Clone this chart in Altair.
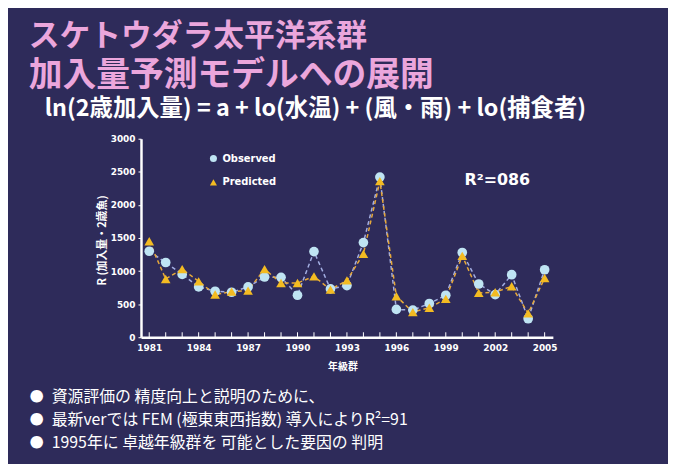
import altair as alt
import pandas as pd

# ---- data ----
years = list(range(1981, 2006))
observed = [1300, 1130, 950, 760, 695, 680, 760, 910, 905, 635, 1295, 730, 780,
            1430, 2420, 420, 410, 510, 635, 1280, 805, 645, 945, 280, 1020]
predicted = [1450, 880, 1030, 845, 645, 690, 705, 1030, 820, 820, 920, 720, 860,
             1260, 2360, 620, 380, 445, 580, 1230, 670, 680, 770, 360, 895]
series_names = ["Observed", "Predicted"]
x_label_years = [1981, 1984, 1987, 1990, 1993, 1996, 1999, 2002, 2005]
y_ticks = [0, 500, 1000, 1500, 2000, 2500, 3000]

title_lines = ["スケトウダラ太平洋系群", "加入量予測モデルへの展開"]
formula = ["ln(2歳加入量) = a + lo(水温) + (風・雨) + lo(捕食者)"]
r2_text = ["R²=086"]
bullets = ["資源評価の 精度向上と説明のために、",
           "最新verでは FEM (極東東西指数) 導入によりR²=91",
           "1995年に 卓越年級群を 可能とした要因の 判明"]
y_title = "R (加入量・2歳魚)"
x_title = "年級群"

BG = "#2e2b5a"
PINK = "#eba6dc"
OBS_C = "#bfe4f3"
PRED_C = "#f3bb22"

df = pd.DataFrame({
    "year": years * 2,
    "value": observed + predicted,
    "series": [series_names[0]] * len(years) + [series_names[1]] * len(years),
})

xs = alt.X("year:Q",
           scale=alt.Scale(domain=[1980.5, 2005.5], nice=False, zero=False),
           axis=alt.Axis(values=x_label_years, format="d", title=x_title,
                         grid=False, tickSize=0, labelPadding=6,
                         titleX=203, titleY=30, titleBaseline="middle",
                         titleAnchor="start", titleAlign="center"))
ys = alt.Y("value:Q",
           scale=alt.Scale(domain=[0, 3000], nice=False),
           axis=alt.Axis(values=y_ticks, format="d", title=y_title, grid=False,
                         tickSize=3, labelPadding=3,
                         titleX=-39, titleY=102, titleAngle=270, titleFontSize=11,
                         titleAlign="center", titleBaseline="middle"))

base = alt.Chart(df)

obs_line = base.transform_filter(alt.datum.series == series_names[0]).mark_line(
    color="#a3aee2", strokeDash=[4, 3], strokeWidth=1.5).encode(x=xs, y=ys)
pred_line = base.transform_filter(alt.datum.series == series_names[1]).mark_line(
    color="#e6a83a", strokeDash=[4, 3], strokeWidth=1.5).encode(x=xs, y=ys)

leg = alt.Legend(title=None, orient="none", legendX=68, legendY=15,
                 labelColor="white", labelFont="DejaVu Sans", labelFontSize=10,
                 labelFontWeight="bold", symbolSize=50, rowPadding=14,
                 symbolStrokeWidth=0, symbolOpacity=1)

points = base.mark_point(filled=True, opacity=1, size=95).encode(
    x=xs, y=ys,
    color=alt.Color("series:N", scale=alt.Scale(domain=series_names, range=[OBS_C, PRED_C]), legend=leg),
    shape=alt.Shape("series:N", scale=alt.Scale(domain=series_names, range=["circle", "triangle-up"]), legend=leg),
)

ticks = alt.Chart(pd.DataFrame({"year": years})).mark_rule(color="white", strokeWidth=1).encode(
    x=alt.X("year:Q", scale=alt.Scale(domain=[1980.5, 2005.5], nice=False, zero=False)),
    y=alt.value(200), y2=alt.value(195))


def txt(lines, x, y, size, color, weight="bold", font="Noto Sans CJK JP", align="left"):
    return alt.Chart(pd.DataFrame({"t": lines})).mark_text(
        align=align, baseline="middle", fontSize=size, color=color,
        font=font, fontWeight=weight).encode(
        x=alt.value(x), y=alt.value(y), text="t:N")


layers = [
    ticks, obs_line, pred_line, points,
    txt([title_lines[0]], -113, -102, 31, PINK),
    txt([title_lines[1]], -113, -63, 34, PINK),
    txt(formula, -97, -30, 23.5, "white"),
    txt(r2_text, 326, 42, 16, "white", font="DejaVu Sans"),
]
for i, b in enumerate(bullets):
    layers.append(txt(["●"], -112, 260 + i * 23.5, 14, "white", weight="normal"))
    layers.append(txt([b], -90, 260 + i * 23.5, 16, "white", weight="normal"))

chart = alt.layer(*layers).properties(
    width=415, height=200,
    background=BG,
    padding={"left": 134, "top": 130, "right": 116, "bottom": 126},
    autosize=alt.AutoSizeParams(type="none"),
).configure_view(stroke=None).configure_axis(
    domainColor="white", domainWidth=2.5, tickColor="white",
    labelColor="white", labelFont="DejaVu Sans", labelFontSize=9, labelFontWeight="bold",
    titleColor="white", titleFont="Noto Sans CJK JP", titleFontSize=10, titleFontWeight="bold",
)

chart.save("out.html", embed_options={"renderer": "svg", "actions": False})
